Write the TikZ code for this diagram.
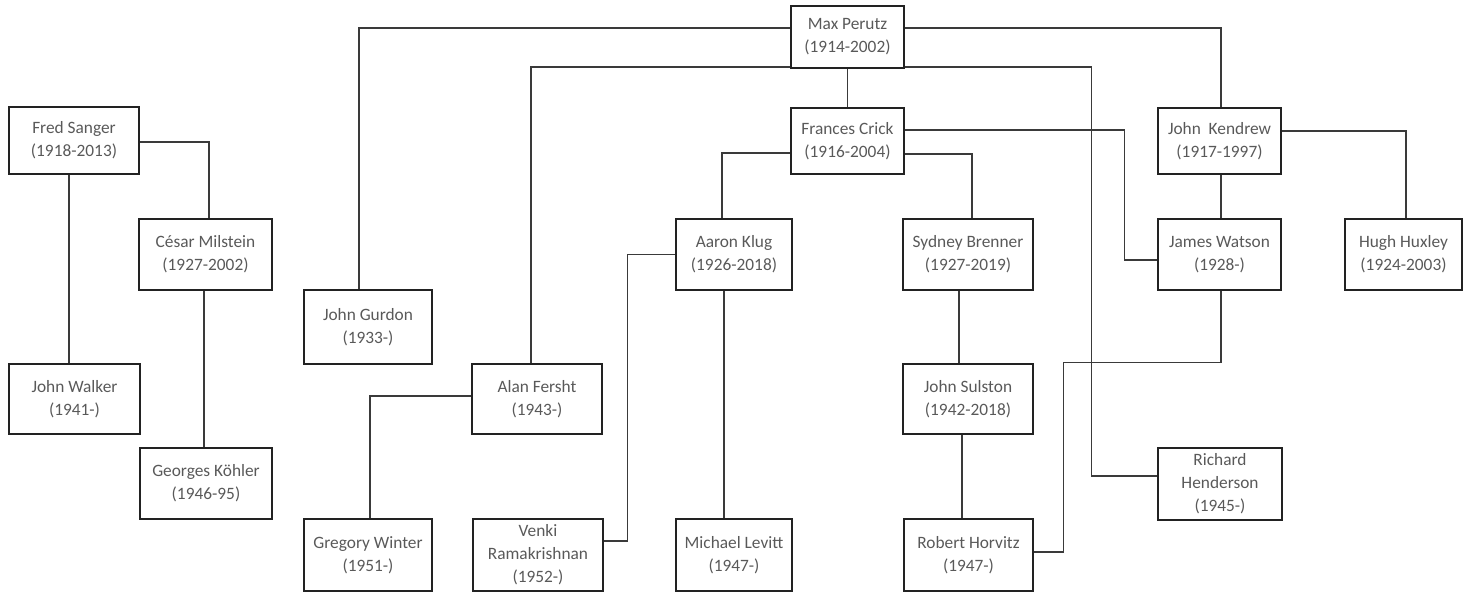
\documentclass[tikz,border=0pt]{standalone}
\usepackage{fontspec}
\setmainfont{Carlito}
\definecolor{boxline}{HTML}{222222}
\definecolor{linkline}{HTML}{3A3A3A}
\definecolor{txt}{HTML}{595959}
\begin{document}
\begin{tikzpicture}[x=0.75pt,y=-0.75pt,
  pbox/.style={draw=boxline,line width=1.9pt,inner sep=0pt,align=center,text=txt,
    font=\fontsize{13}{17.25}\selectfont},
  link/.style={draw=linkline,line width=1.1pt}]
\useasboundingbox (0,0) rectangle (1464,593);
\newcommand\pbx[6]{\node[pbox,minimum width={(#4-#2)*0.75pt},minimum height={(#5-#3)*0.75pt}] (#1) at ({(#2+#4)/2},{(#3+#5)/2}) {#6};}
\pbx{perutz}{791}{6}{904}{68}{Max Perutz\\(1914-2002)}
\pbx{crick}{791}{108}{904}{174}{Frances Crick\\(1916-2004)}
\pbx{sanger}{9}{107}{139}{174}{Fred Sanger\\(1918-2013)}
\pbx{milstein}{139}{219}{272}{290}{César Milstein\\(1927-2002)}
\pbx{gurdon}{304}{290}{432}{364}{John Gurdon\\(1933-)}
\pbx{fersht}{472}{364}{602}{434}{Alan Fersht\\(1943-)}
\pbx{klug}{676}{219}{792}{290}{Aaron Klug\\(1926-2018)}
\pbx{brenner}{903}{219}{1033}{290}{Sydney Brenner\\(1927-2019)}
\pbx{watson}{1158}{219}{1281}{290}{James Watson\\(1928-)}
\pbx{kendrew}{1158}{108}{1281}{174}{John\ \ Kendrew\\(1917-1997)}
\pbx{huxley}{1345}{219}{1462}{290}{Hugh Huxley\\(1924-2003)}
\pbx{walker}{9}{364}{140}{434}{John Walker\\(1941-)}
\pbx{kohler}{140}{448}{272}{519}{Georges Köhler\\(1946-95)}
\pbx{winter}{304}{519}{432}{591}{Gregory Winter\\(1951-)}
\pbx{venki}{473}{519}{603}{591}{Venki\\Ramakrishnan\\(1952-)}
\pbx{levitt}{676}{519}{792}{591}{Michael Levitt\\(1947-)}
\pbx{sulston}{903}{364}{1033}{434}{John Sulston\\(1942-2018)}
\pbx{horvitz}{904}{519}{1033}{591}{Robert Horvitz\\(1947-)}
\pbx{henderson}{1158}{448}{1282}{520}{Richard\\Henderson\\(1945-)}
% connectors
\draw[link] ([yshift=6.75pt]perutz.west) -| ([xshift=-6.75pt]gurdon.north);
\draw[link] ([yshift=-22.5pt]perutz.west) -| ([xshift=-4.5pt]fersht.north);
\draw[link] ([yshift=6.75pt]perutz.east) -| ([xshift=1.125pt]kendrew.north);
\draw[link] ([yshift=-22.5pt]perutz.east) -| ([xshift=-48.75pt,yshift=6pt]henderson.west) -- ([yshift=6pt]henderson.west);
\draw[link] (perutz.south) -- (crick.north);
\draw[link] ([yshift=8.25pt]crick.east) -| ([xshift=-24pt,yshift=-4.125pt]watson.west) -- ([yshift=-4.125pt]watson.west);
\draw[link] ([yshift=-9pt]crick.west) -| ([xshift=-9pt]klug.north);
\draw[link] ([yshift=-9.75pt]crick.east) -| ([xshift=3pt]brenner.north);
\draw[link] ([xshift=1.125pt]kendrew.south) -- ([xshift=1.125pt]watson.north);
\draw[link] ([yshift=7.5pt]kendrew.east) -| ([xshift=1.875pt]huxley.north);
\coordinate (wbend) at ([xshift=21.75pt]horvitz.east);
\coordinate (wtop) at ([xshift=1.125pt]watson.south);
\draw[link] (wtop) |- (wbend |- sulston.north) |- ([yshift=2.25pt]horvitz.east);
\draw[link] ([yshift=-1.125pt]sanger.east) -| ([xshift=2.625pt]milstein.north);
\draw[link] ([xshift=-3.75pt]sanger.south) -- ([xshift=-4.125pt]walker.north);
\draw[link] ([xshift=-1.125pt]milstein.south) -- ([xshift=-1.5pt]kohler.north);
\draw[link] (klug.west) -| ([xshift=17.25pt,yshift=10.5pt]venki.east) -- ([yshift=10.5pt]venki.east);
\draw[link] ([xshift=-7.5pt]klug.south) -- ([xshift=-7.5pt]levitt.north);
\draw[link] ([yshift=2.25pt]fersht.west) -| ([xshift=1.5pt]winter.north);
\draw[link] ([xshift=-6.75pt]brenner.south) -- ([xshift=-6.75pt]sulston.north);
\draw[link] ([xshift=-4.5pt]sulston.south) -- ([xshift=-4.875pt]horvitz.north);
\end{tikzpicture}
\end{document}
